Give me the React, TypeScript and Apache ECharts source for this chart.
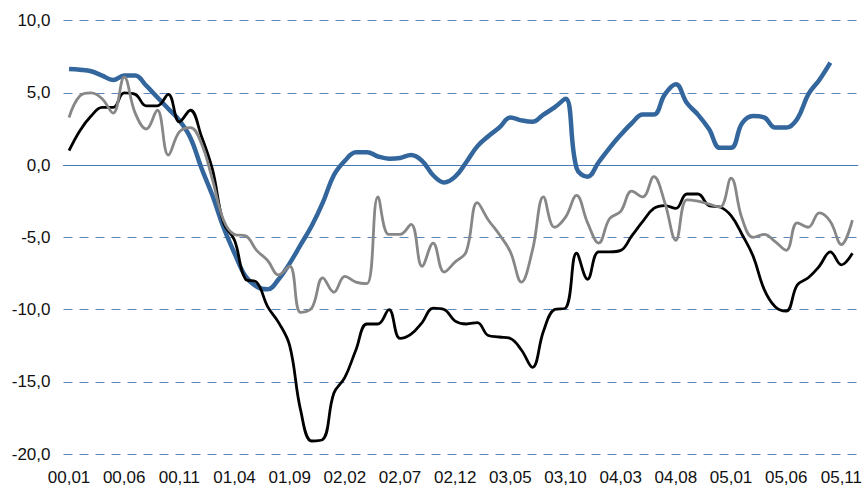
import React, { useEffect, useRef } from "react";
import * as echarts from "echarts";

const months: string[] = [
  "00,01","00,02","00,03","00,04","00,05","00,06","00,07","00,08","00,09","00,10","00,11","00,12",
  "01,01","01,02","01,03","01,04","01,05","01,06","01,07","01,08","01,09","01,10","01,11","01,12",
  "02,01","02,02","02,03","02,04","02,05","02,06","02,07","02,08","02,09","02,10","02,11","02,12",
  "03,01","03,02","03,03","03,04","03,05","03,06","03,07","03,08","03,09","03,10","03,11","03,12",
  "04,01","04,02","04,03","04,04","04,05","04,06","04,07","04,08","04,09","04,10","04,11","04,12",
  "05,01","05,02","05,03","05,04","05,05","05,06","05,07","05,08","05,09","05,10","05,11","05,12",
];

const blueSeries: (number | null)[] = [
  6.65, 6.6, 6.5, 6.2, 5.9, 6.2, 6.2, 5.5, 4.7, 3.9, 3.1, 1.9,
  -0.2, -2.1, -4.3, -6.1, -7.7, -8.4, -8.6, -7.9, -6.8, -5.5, -4.2, -2.6,
  -0.7, 0.3, 0.9, 0.9, 0.6, 0.45, 0.5, 0.7, 0.3, -0.7, -1.2, -0.8,
  0.2, 1.3, 2.0, 2.6, 3.3, 3.1, 3.0, 3.5, 4.0, 4.6, -0.2, -0.8,
  0.2, 1.2, 2.1, 2.9, 3.5, 3.5, 4.9, 5.6, 4.3, 3.5, 2.5, 1.2,
  1.2, 2.9, 3.4, 3.3, 2.6, 2.6, 3.2, 4.9, 5.9, 7.1, null, null,
];

const blackSeries: number[] = [
  1.0, 2.4, 3.4, 4.0, 4.0, 5.0, 4.9, 4.1, 4.1, 4.9, 3.0, 3.8,
  2.0, -0.3, -4.0, -5.2, -7.9, -8.1, -9.8, -10.9, -12.5, -17.0, -19.1, -19.0,
  -15.8, -14.7, -12.8, -11.0, -11.0, -10.0, -12.0, -11.7, -10.9, -9.9, -10.0, -10.8,
  -11.0, -10.9, -11.8, -11.9, -12.0, -12.8, -14.0, -11.5, -10.0, -9.9, -6.1, -7.9,
  -6.0, -6.0, -5.9, -4.9, -3.9, -3.0, -2.8, -3.0, -2.0, -2.0, -2.8, -2.9,
  -3.5, -4.8, -6.3, -8.6, -9.8, -10.1, -8.3, -7.8, -7.0, -6.0, -6.9, -6.1,
];

const graySeries: number[] = [
  3.3, 4.8, 5.0, 4.6, 3.6, 6.1, 3.6, 2.5, 3.8, 0.7, 2.3, 2.6,
  1.5, -1.0, -3.8, -4.8, -4.9, -5.9, -6.6, -7.6, -7.0, -10.2, -9.9, -7.8,
  -8.8, -7.7, -8.1, -8.2, -2.2, -4.8, -4.8, -4.1, -7.0, -5.4, -7.4, -6.7,
  -6.0, -2.6, -3.8, -4.8, -6.0, -8.1, -5.9, -2.2, -4.3, -3.6, -2.1, -4.0,
  -5.4, -3.7, -3.2, -1.8, -2.2, -0.8, -2.6, -5.2, -2.4, -2.5, -2.7, -2.9,
  -0.9, -3.7, -5.0, -4.8, -5.3, -5.9, -4.0, -4.3, -3.3, -3.9, -5.5, -3.8,
];

const yTicks = { min: -20, max: 10, interval: 5 };

export default function App() {
  const ref = useRef<HTMLDivElement>(null);
  useEffect(() => {
    if (!ref.current) return;
    const chart = echarts.init(ref.current, null, { renderer: "svg" });
    const font = "'Liberation Sans', Arial, sans-serif";
    chart.setOption({
      animation: false,
      backgroundColor: "#ffffff",
      grid: { left: 63.5, right: 4.5, top: 20.7, bottom: 34, containLabel: false },
      xAxis: [
        {
          type: "category",
          data: months,
          boundaryGap: true,
          axisLine: { show: false, onZero: false },
          axisTick: { show: false },
          splitLine: { show: false },
          axisLabel: {
            interval: 4,
            margin: 15,
            color: "#111",
            fontSize: 17,
            fontFamily: font,
          },
        },
        {
          type: "category",
          data: months,
          position: "bottom",
          boundaryGap: true,
          axisLine: {
            show: true,
            onZero: true,
            lineStyle: { color: "#4a7ab8", width: 1 },
          },
          axisTick: { show: false },
          axisLabel: { show: false },
          splitLine: { show: false },
        },
      ],
      yAxis: {
        type: "value",
        min: yTicks.min,
        max: yTicks.max,
        interval: yTicks.interval,
        axisLine: { show: false },
        axisTick: { show: false },
        axisLabel: {
          margin: 13,
          color: "#111",
          fontSize: 17,
          fontFamily: font,
          formatter: (v: number) => v.toFixed(1).replace(".", ","),
        },
        splitLine: {
          show: true,
          lineStyle: { color: "#5d87ba", width: 1, type: [9, 7] },
        },
      },
      series: [
        {
          name: "blue",
          type: "line",
          data: blueSeries,
          smooth: 0.4,
          showSymbol: false,
          symbol: "none",
          lineStyle: { color: "#33669c", width: 4.5 },
          z: 2,
        },
        {
          name: "black",
          type: "line",
          data: blackSeries,
          smooth: 0.4,
          showSymbol: false,
          symbol: "none",
          lineStyle: { color: "#000000", width: 2.8 },
          z: 3,
        },
        {
          name: "gray",
          type: "line",
          data: graySeries,
          smooth: 0.4,
          showSymbol: false,
          symbol: "none",
          lineStyle: { color: "#878787", width: 2.8 },
          z: 4,
        },
      ],
    });
    return () => chart.dispose();
  }, []);
  return (
    <div
      ref={ref}
      style={{ position: "fixed", left: 0, top: 0, width: 865, height: 488 }}
    />
  );
}
